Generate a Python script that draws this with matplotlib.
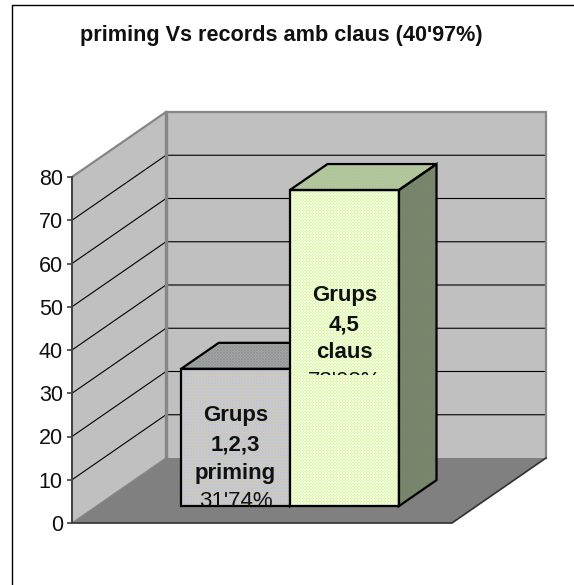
import numpy as np
import matplotlib.pyplot as plt
from matplotlib.colors import to_rgb
from matplotlib.lines import Line2D
from matplotlib.patches import Polygon, Rectangle

W, H = 574, 585

title = "priming Vs records amb claus (40'97%)"
y_ticks = [0, 10, 20, 30, 40, 50, 60, 70, 80]
bar_values = [31.74, 73.08]
bar_labels = [["Grups", "1,2,3", "priming"], ["Grups", "4,5", "claus"]]
bar_value_labels = ["31'74%", "73'08%"]

plt.rcParams['font.family'] = ['Liberation Sans', 'DejaVu Sans']

fig = plt.figure(figsize=(W / 100, H / 100), dpi=100)
ax = fig.add_axes([72 / W, 1 - 523 / H, 380 / W, 346 / H])
ax.set_xlim(0, 1)
ax.set_ylim(0, 80)
ax.patch.set_visible(False)

# oblique depth of the 3d box, in data units
DX = 94 / 380
DY = 65 * 80 / 346


def proj(x, y, d=0):
    return (x + d * DX, y + d * DY)


def face(points, color, **kw):
    p = Polygon(points, closed=True, facecolor=color, edgecolor='none', clip_on=False, **kw)
    ax.add_patch(p)
    return p


def pattern_face(points, base, dots, zorder):
    # dither like the old gif export: one light row and column every 3 pixels
    poly = Polygon(points, closed=True, transform=ax.transData, facecolor='none', edgecolor='none')
    ax.add_patch(poly)
    poly.set_clip_on(False)
    yy, xx = np.mgrid[0:H, 0:W]
    mask = (xx % 3 == 0) ^ (yy % 3 == 0)
    img = np.zeros((H, W, 3))
    img[:] = np.array(to_rgb(base))
    img[mask] = np.array(to_rgb(dots))
    x0 = -72 / 380
    x1 = (W - 72) / 380
    y0 = -(H - 523) * 80 / 346
    y1 = 523 * 80 / 346
    im = ax.imshow(img, extent=[x0, x1, y0, y1], aspect='auto', origin='upper',
                   interpolation='nearest', zorder=zorder)
    im.set_clip_box(fig.bbox)
    im.set_clip_path(poly)
    ax.set_xlim(0, 1)
    ax.set_ylim(0, 80)


top = y_ticks[-1]

# walls and floor
face([proj(0, 0), proj(1, 0), proj(1, 0, 1), proj(0, 0, 1)], '#808080', zorder=2)
face([proj(0, 0, 1), proj(1, 0, 1), proj(1, top, 1), proj(0, top, 1)], '#c0c0c0', zorder=1)
face([proj(0, 0), proj(0, 0, 1), proj(0, top, 1), proj(0, top)], '#c0c0c0', zorder=1)

for v in y_ticks[1:-1]:
    xs, ys = zip(proj(0, v), proj(0, v, 1), proj(1, v, 1))
    ax.plot(xs, ys, color='black', lw=0.8, zorder=1.5, clip_on=False)

grey = '#868686'
xs, ys = zip(proj(0, top), proj(0, top, 1), proj(1, top, 1), proj(1, 0, 1))
ax.plot(xs, ys, color=grey, lw=1.6, zorder=2.5, clip_on=False, solid_joinstyle='miter')
xs, ys = zip(proj(0, 0), proj(0, 0, 1))
ax.plot(xs, ys, color=grey, lw=1.0, zorder=2.5, clip_on=False)
xs, ys = zip(proj(0, top, 1), proj(0, 0, 1))
ax.plot(xs, ys, color=grey, lw=2.4, zorder=1.6, clip_on=False)
xs, ys = zip(proj(0, 0), proj(1, 0), proj(1, 0, 1))
ax.plot(xs, ys, color='#303030', lw=1.2, zorder=2.5, clip_on=False)

# bars
bar_x = [109 / 380 * 0.777, 109 / 380 * 1.775]
bar_w = 109 / 380
d0, d1 = 0.26, 0.66
styles = [
    (('#b4c8e6', '#e0c8a4'), ('#8c98a8', '#a8a490'), ('#8c98a8', '#a8a490')),
    (('#ffffbc', '#d0f4dc'), ('#b8c890', '#a8c4a8'), ('#7c8660', '#728478')),
]
for i, (x, v, st) in enumerate(zip(bar_x, bar_values, styles)):
    z = 3 + i
    front = [proj(x, 0, d0), proj(x + bar_w, 0, d0), proj(x + bar_w, v, d0), proj(x, v, d0)]
    topf = [proj(x, v, d0), proj(x + bar_w, v, d0), proj(x + bar_w, v, d1), proj(x, v, d1)]
    side = [proj(x + bar_w, 0, d0), proj(x + bar_w, 0, d1), proj(x + bar_w, v, d1), proj(x + bar_w, v, d0)]
    pattern_face(side, st[2][0], st[2][1], z)
    pattern_face(topf, st[1][0], st[1][1], z)
    pattern_face(front, st[0][0], st[0][1], z)
    for pts in (side, topf, front):
        ax.add_patch(Polygon(pts, closed=True, facecolor='none', edgecolor='black', lw=1.6,
                             zorder=z + 0.2, clip_on=False, joinstyle='miter'))

# labels, the last line is cut off by its text box like in the original
clip_bottom = [3.9, 34.2]
first_line_px = [416.0, 296.0]
line_px = 28.5
for i in range(2):
    cx = bar_x[i] + bar_w / 2 + d0 * DX
    lines = bar_labels[i] + [bar_value_labels[i]]
    for k, lab in enumerate(lines):
        py = first_line_px[i] + k * line_px
        weight = 'normal' if k == 3 else 'bold'
        t = ax.text(cx, (523 - py) * 80 / 346, lab, ha='center', va='center', fontsize=16,
                    fontweight=weight, color='#101010', zorder=6)
        r = Rectangle((0, clip_bottom[i]), 1, 80, transform=ax.transData)
        t.set_clip_path(r)
        t.set_clip_on(True)

# y axis
ax.set_yticks(y_ticks)
ax.set_xticks([])
ax.tick_params(axis='y', length=3.6, width=1.2, color='#404040', labelsize=15.5, pad=3, labelcolor='#101010')
for s in ['top', 'right', 'bottom']:
    ax.spines[s].set_visible(False)
ax.spines['left'].set_color('#404040')
ax.spines['left'].set_linewidth(1.4)
ax.spines['left'].set_zorder(3)

# frame of the chart area, only left and top are in the crop
fig.add_artist(Line2D([12 / W, 12 / W, 1], [0, 1 - 5 / H, 1 - 5 / H], color='black', lw=1.0))
fig.text(281 / W, 1 - 35 / H, title, ha='center', va='center', fontsize=15.6, fontweight='bold', color='#101010')

fig.savefig('out.png', dpi=100)
